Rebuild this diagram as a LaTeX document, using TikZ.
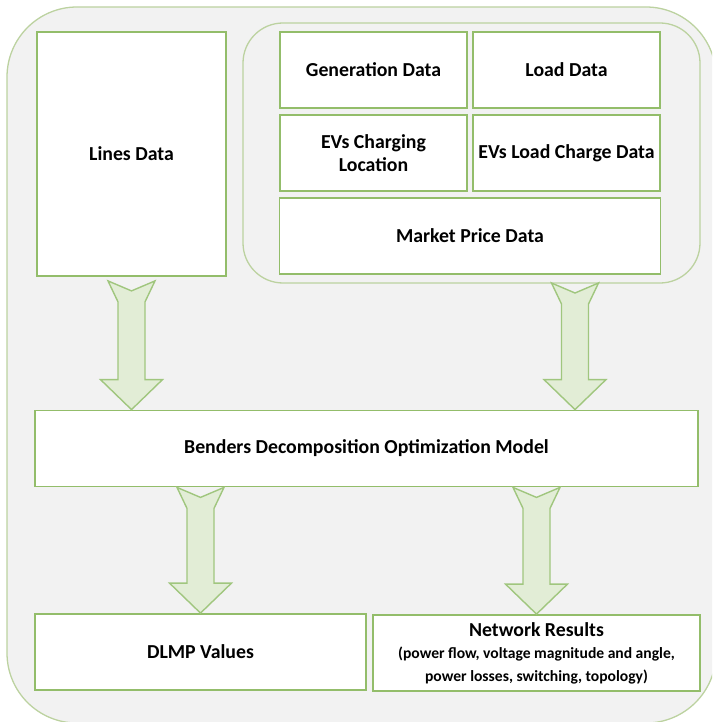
\documentclass[tikz,border=0pt]{standalone}
\usepackage{fontspec}
\setmainfont{Carlito}
\usetikzlibrary{calc}
\definecolor{boxgreen}{HTML}{93BD6A}
\definecolor{framegreen}{HTML}{BCD2A0}
\definecolor{framefill}{HTML}{F2F2F2}
\definecolor{arrowfill}{HTML}{E2EDD6}
\definecolor{arrowline}{HTML}{A0C67E}
\tikzset{
  databox/.style={draw=boxgreen, line width=1.8pt, fill=white, inner sep=0pt, align=center,
    font=\fontsize{19.8}{23}\selectfont\bfseries},
  subtext/.style={font=\fontsize{15.6}{22}\selectfont\bfseries},
  barrow/.style={draw=arrowline, fill=arrowfill, line width=1.4pt, line join=miter},
  framebox/.style={draw=framegreen, line width=1.3pt, fill=framefill},
}
\newcommand\blockarrow[2]{%
  \path[barrow] let \p1=#1, \p2=#2 in
    (\x1-23.5pt,\y1) -- (\x1,\y1-10pt) -- (\x1+23.5pt,\y1) -- (\x1+13.5pt,\y1-21pt)
    -- (\x1+13.5pt,\y2+30pt) -- (\x1+31pt,\y2+30pt) -- (\x1,\y2) -- (\x1-31pt,\y2+30pt)
    -- (\x1-13.5pt,\y2+30pt) -- (\x1-13.5pt,\y1-21pt) -- cycle;}
\begin{document}
\begin{tikzpicture}[x=1pt,y=-1pt]
\useasboundingbox (0,0) rectangle (712,722);
\begin{scope}
\clip (0,0) rectangle (712,722);
\draw[framebox, rounded corners=70pt] (7,7) rectangle (716,723);
\end{scope}
\draw[framebox, rounded corners=40pt] (243,23) rectangle (700,283);
% nodes
\node[databox, minimum width=189pt, minimum height=244pt] (lines) at (131.5,154) {Lines Data};
\node[databox, minimum width=187pt, minimum height=76pt] (gen) at (373.5,70) {Generation Data};
\node[databox, minimum width=187pt, minimum height=76pt] (load) at (566.5,70) {Load Data};
\node[databox, minimum width=187pt, minimum height=76pt] (evloc) at (373.5,153) {EVs Charging\\Location};
\node[databox, minimum width=187pt, minimum height=76pt] (evload) at (566.5,153) {EVs Load Charge Data};
\node[databox, minimum width=381pt, minimum height=76pt] (market) at (470,236) {Market Price Data};
\coordinate (cont) at (575,283);
\node[databox, minimum width=663pt, minimum height=76pt] (benders) at (366.5,448.5) {Benders Decomposition Optimization Model};
\node[databox, minimum width=331pt, minimum height=76pt] (dlmp) at (200.5,652) {DLMP Values};
\node[databox, minimum width=327pt, minimum height=76pt] (net) at (536.5,653)
  {Network Results\\[-1pt]{\fontsize{15.6}{22}\selectfont(power flow, voltage magnitude and angle,}\\{\fontsize{15.6}{22}\selectfont power losses, switching, topology)}};
% arrows
\blockarrow{($(lines.south)+(0,4)$)}{(lines.south |- benders.north)}
\blockarrow{(cont)}{(cont |- benders.north)}
\blockarrow{($(dlmp.north |- benders.south)$)}{(dlmp.north)}
\blockarrow{($(net.north |- benders.south)$)}{(net.north)}
\end{tikzpicture}
\end{document}
